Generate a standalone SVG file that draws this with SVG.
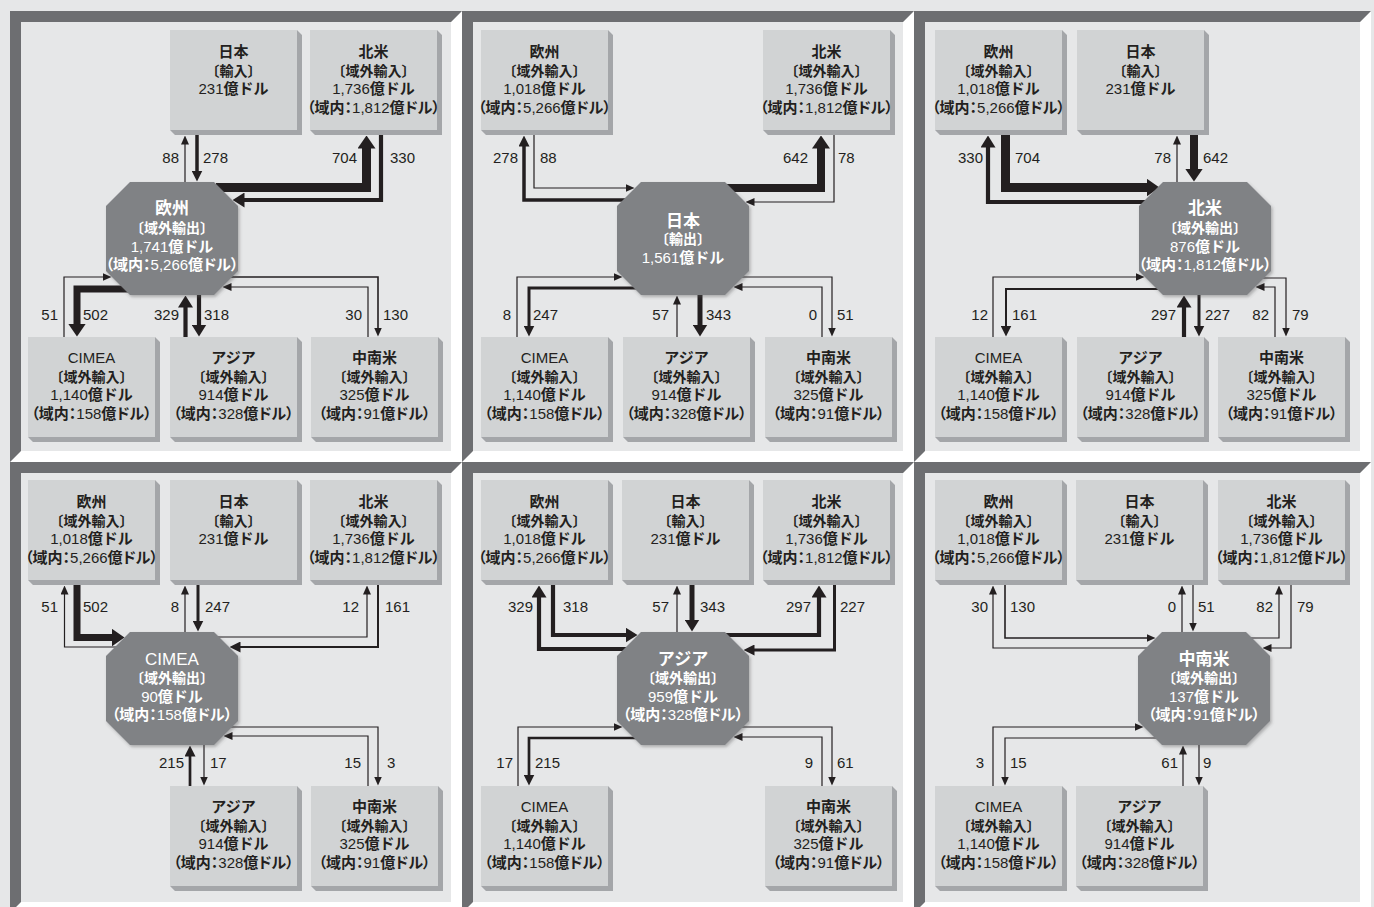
<svg xmlns="http://www.w3.org/2000/svg" width="1374" height="907" viewBox="0 0 1374 907">
<defs>
<style>
text{font-family:"Liberation Sans","Noto Sans CJK JP",sans-serif}
.bt{font-size:15px;font-weight:bold;fill:#231f20;text-anchor:middle}
.ot{font-size:15px;font-weight:bold;fill:#ffffff;text-anchor:middle}
.s14{font-size:14px}
.big{font-size:17px}
.n{font-weight:normal}
.p{font-feature-settings:"palt" 1}
.lb{font-size:15px;fill:#231f20}
.e{text-anchor:end}
.face{fill:#d1d3d4}
.bev{fill:#a4a6a9}
.oct{fill:#808285;filter:url(#sh)}
.frame{fill:#6d6e71}
.inner{fill:#e6e7e8}
.gap{fill:#ffffff}
#connectors path{fill:none;stroke:#231f20;stroke-linejoin:miter;stroke-linecap:butt}
.w1{stroke-width:1.2}.w15{stroke-width:1.6}.w2{stroke-width:2}.w27{stroke-width:2.7}.w3{stroke-width:3}.w35{stroke-width:3.5}.w4{stroke-width:4.2}.w5{stroke-width:5}.w7{stroke-width:7}.w8{stroke-width:8}.w9{stroke-width:9}
</style>
<filter id="sh" x="-10%" y="-10%" width="125%" height="125%"><feDropShadow dx="1.5" dy="2" stdDeviation="1.5" flood-color="#555" flood-opacity="0.4"/></filter>
<marker id="h1" viewBox="0 0 9 8" refX="0.5" refY="4" markerWidth="9" markerHeight="8" markerUnits="userSpaceOnUse" orient="auto"><path d="M0,0L9,4L0,8z" fill="#231f20"/></marker>
<marker id="h3" viewBox="0 0 11 11" refX="0.5" refY="5.5" markerWidth="11" markerHeight="11" markerUnits="userSpaceOnUse" orient="auto"><path d="M0,0L11,5.5L0,11z" fill="#231f20"/></marker>
<marker id="h5" viewBox="0 0 12 15" refX="0.5" refY="7.5" markerWidth="12" markerHeight="15" markerUnits="userSpaceOnUse" orient="auto"><path d="M0,0L12,7.5L0,15z" fill="#231f20"/></marker>
<marker id="h8" viewBox="0 0 13 18" refX="0.5" refY="9" markerWidth="13" markerHeight="18" markerUnits="userSpaceOnUse" orient="auto"><path d="M0,0L13,9L0,18z" fill="#231f20"/></marker>
</defs>
<rect width="1374" height="907" fill="#e6e7e8"/>
<g id="panels">
<rect class="gap" x="10" y="11" width="452" height="451"/><polygon class="frame" points="10,11 462,11 451,22 21,22 21,451 10,462"/><rect class="inner" x="21" y="22" width="430" height="429"/>
<rect class="gap" x="462" y="11" width="452" height="451"/><polygon class="frame" points="462,11 914,11 903,22 473,22 473,451 462,462"/><rect class="inner" x="473" y="22" width="430" height="429"/>
<rect class="gap" x="914" y="11" width="457" height="451"/><polygon class="frame" points="914,11 1371,11 1360,22 925,22 925,451 914,462"/><rect class="inner" x="925" y="22" width="435" height="429"/>
<rect class="gap" x="10" y="462" width="452" height="451"/><polygon class="frame" points="10,462 462,462 451,473 21,473 21,902 10,913"/><rect class="inner" x="21" y="473" width="430" height="429"/>
<rect class="gap" x="462" y="462" width="452" height="451"/><polygon class="frame" points="462,462 914,462 903,473 473,473 473,902 462,913"/><rect class="inner" x="473" y="473" width="430" height="429"/>
<rect class="gap" x="914" y="462" width="457" height="451"/><polygon class="frame" points="914,462 1371,462 1360,473 925,473 925,902 914,913"/><rect class="inner" x="925" y="473" width="435" height="429"/>
</g>
<g id="connectors">
<path class="w1" d="M185 182V144" marker-end="url(#h1)"/>
<path class="w35" d="M197 135V171" marker-end="url(#h3)"/>
<path class="w9" d="M216 187.5H366.5V148" marker-end="url(#h8)"/>
<path class="w4" d="M381 135V200H244" marker-end="url(#h5)"/>
<path class="w1" d="M64 337V277H103" marker-end="url(#h1)"/>
<path class="w7" d="M128 289H77V324" marker-end="url(#h8)"/>
<path class="w4" d="M185.5 337V307" marker-end="url(#h5)"/>
<path class="w4" d="M199 295V325" marker-end="url(#h5)"/>
<path class="w1" d="M368 337V287H231" marker-end="url(#h1)"/>
<path class="w15" d="M228 277H378V328" marker-end="url(#h1)"/>
<path class="w35" d="M627 200H524V146" marker-end="url(#h3)"/>
<path class="w1" d="M534 135V188H626" marker-end="url(#h1)"/>
<path class="w8" d="M727 188H821V148" marker-end="url(#h8)"/>
<path class="w1" d="M834 135V202H754" marker-end="url(#h1)"/>
<path class="w1" d="M517 337V277H614" marker-end="url(#h1)"/>
<path class="w3" d="M638 288H529V326" marker-end="url(#h3)"/>
<path class="w1" d="M677 337V304" marker-end="url(#h1)"/>
<path class="w5" d="M700 295V325" marker-end="url(#h5)"/>
<path class="w1" d="M822 337V287H742" marker-end="url(#h1)"/>
<path class="w1" d="M739 277H832V328" marker-end="url(#h1)"/>
<path class="w4" d="M1147 202H988V147" marker-end="url(#h5)"/>
<path class="w9" d="M1005.5 135V187.5H1147" marker-end="url(#h8)"/>
<path class="w1" d="M1177 182V144" marker-end="url(#h1)"/>
<path class="w8" d="M1194 135V169" marker-end="url(#h8)"/>
<path class="w1" d="M993 337V277H1136" marker-end="url(#h1)"/>
<path class="w2" d="M1160 289H1006V326" marker-end="url(#h3)"/>
<path class="w4" d="M1184 337V307" marker-end="url(#h5)"/>
<path class="w3" d="M1199 295V326" marker-end="url(#h3)"/>
<path class="w1" d="M1275 337V287H1264" marker-end="url(#h1)"/>
<path class="w1" d="M1260 278H1286V328" marker-end="url(#h1)"/>
<path class="w7" d="M77 585V637.5H112" marker-end="url(#h8)"/>
<path class="w1" d="M119 647H64.5V594" marker-end="url(#h1)"/>
<path class="w1" d="M185 632V594" marker-end="url(#h1)"/>
<path class="w3" d="M198 585V621" marker-end="url(#h3)"/>
<path class="w1" d="M215 637H367V594" marker-end="url(#h1)"/>
<path class="w2" d="M378 585V647H240" marker-end="url(#h3)"/>
<path class="w27" d="M190 786V756" marker-end="url(#h3)"/>
<path class="w1" d="M204 745V777" marker-end="url(#h1)"/>
<path class="w1" d="M368 786V736H232" marker-end="url(#h1)"/>
<path class="w1" d="M228 727H378V777" marker-end="url(#h1)"/>
<path class="w4" d="M628 649H539V597" marker-end="url(#h5)"/>
<path class="w4" d="M553 585V635H626" marker-end="url(#h5)"/>
<path class="w1" d="M677 632V594" marker-end="url(#h1)"/>
<path class="w5" d="M692 585V620" marker-end="url(#h5)"/>
<path class="w4" d="M724 635H819V597" marker-end="url(#h5)"/>
<path class="w3" d="M834.5 585V650H754" marker-end="url(#h3)"/>
<path class="w1" d="M518 786V727H614" marker-end="url(#h1)"/>
<path class="w27" d="M638 738H529V775" marker-end="url(#h3)"/>
<path class="w1" d="M822 786V737H742" marker-end="url(#h1)"/>
<path class="w1" d="M739 727H832V777" marker-end="url(#h1)"/>
<path class="w1" d="M1150 648H993V594" marker-end="url(#h1)"/>
<path class="w15" d="M1005 585V638H1147" marker-end="url(#h1)"/>
<path class="w1" d="M1182 632V594" marker-end="url(#h1)"/>
<path class="w1" d="M1193 585V623" marker-end="url(#h1)"/>
<path class="w1" d="M1248 638H1279V594" marker-end="url(#h1)"/>
<path class="w1" d="M1291 585V648H1271" marker-end="url(#h1)"/>
<path class="w1" d="M993 786V727H1135" marker-end="url(#h1)"/>
<path class="w1" d="M1159 738H1005V777" marker-end="url(#h1)"/>
<path class="w1" d="M1183 786V754" marker-end="url(#h1)"/>
<path class="w1" d="M1199 745V777" marker-end="url(#h1)"/>
</g>
<g id="labels">
<text class="lb e" x="179" y="163">88</text><text class="lb" x="203" y="163">278</text><text class="lb e" x="357" y="163">704</text><text class="lb" x="390" y="163">330</text>
<text class="lb e" x="58" y="320">51</text><text class="lb" x="83" y="320">502</text><text class="lb e" x="179" y="320">329</text><text class="lb" x="204" y="320">318</text><text class="lb e" x="362" y="320">30</text><text class="lb" x="383" y="320">130</text>
<text class="lb e" x="518" y="163">278</text><text class="lb" x="540" y="163">88</text><text class="lb e" x="808" y="163">642</text><text class="lb" x="838" y="163">78</text>
<text class="lb e" x="511" y="320">8</text><text class="lb" x="533" y="320">247</text><text class="lb e" x="669" y="320">57</text><text class="lb" x="706" y="320">343</text><text class="lb e" x="817" y="320">0</text><text class="lb" x="837" y="320">51</text>
<text class="lb e" x="983" y="163">330</text><text class="lb" x="1015" y="163">704</text><text class="lb e" x="1171" y="163">78</text><text class="lb" x="1203" y="163">642</text>
<text class="lb e" x="988" y="320">12</text><text class="lb" x="1012" y="320">161</text><text class="lb e" x="1176" y="320">297</text><text class="lb" x="1205" y="320">227</text><text class="lb e" x="1269" y="320">82</text><text class="lb" x="1292" y="320">79</text>
<text class="lb e" x="58" y="612">51</text><text class="lb" x="83" y="612">502</text><text class="lb e" x="179" y="612">8</text><text class="lb" x="205" y="612">247</text><text class="lb e" x="359" y="612">12</text><text class="lb" x="385" y="612">161</text>
<text class="lb e" x="184" y="768">215</text><text class="lb" x="210" y="768">17</text><text class="lb e" x="361" y="768">15</text><text class="lb" x="387" y="768">3</text>
<text class="lb e" x="533" y="612">329</text><text class="lb" x="563" y="612">318</text><text class="lb e" x="669" y="612">57</text><text class="lb" x="700" y="612">343</text><text class="lb e" x="811" y="612">297</text><text class="lb" x="840" y="612">227</text>
<text class="lb e" x="513" y="768">17</text><text class="lb" x="535" y="768">215</text><text class="lb e" x="813" y="768">9</text><text class="lb" x="837" y="768">61</text>
<text class="lb e" x="988" y="612">30</text><text class="lb" x="1010" y="612">130</text><text class="lb e" x="1176" y="612">0</text><text class="lb" x="1198" y="612">51</text><text class="lb e" x="1273" y="612">82</text><text class="lb" x="1297" y="612">79</text>
<text class="lb e" x="984" y="768">3</text><text class="lb" x="1010" y="768">15</text><text class="lb e" x="1178" y="768">61</text><text class="lb" x="1203" y="768">9</text>
</g>
<g id="p1-japan" transform="translate(170,30)"><polygon class="bev" points="127,0 132,5 132,105 5,105 0,100 127,100"/><rect class="face" width="127" height="100"/><text class="bt" x="63.5" y="27">日本</text><text class="bt s14" x="63.5" y="45.5">〔輸入〕</text><text class="bt" x="63.5" y="64"><tspan class="n">231</tspan>億ドル</text></g>
<g id="p1-namerica" transform="translate(310,30)"><polygon class="bev" points="127,0 132,5 132,105 5,105 0,100 127,100"/><rect class="face" width="127" height="100"/><text class="bt" x="63.5" y="27">北米</text><text class="bt s14" x="63.5" y="45.5">〔域外輸入〕</text><text class="bt" x="63.5" y="64"><tspan class="n">1,736</tspan>億ドル</text><text class="bt p" x="63.5" y="82.5">（域内：<tspan class="n">1,812</tspan>億ドル）</text></g>
<g id="p1-cimea" transform="translate(28,337)"><polygon class="bev" points="127,0 132,5 132,105 5,105 0,100 127,100"/><rect class="face" width="127" height="100"/><text class="bt n" x="63.5" y="26">CIMEA</text><text class="bt s14" x="63.5" y="44.5">〔域外輸入〕</text><text class="bt" x="63.5" y="63"><tspan class="n">1,140</tspan>億ドル</text><text class="bt p" x="63.5" y="81.5">（域内：<tspan class="n">158</tspan>億ドル）</text></g>
<g id="p1-asia" transform="translate(170,337)"><polygon class="bev" points="127,0 132,5 132,105 5,105 0,100 127,100"/><rect class="face" width="127" height="100"/><text class="bt" x="63.5" y="26">アジア</text><text class="bt s14" x="63.5" y="44.5">〔域外輸入〕</text><text class="bt" x="63.5" y="63"><tspan class="n">914</tspan>億ドル</text><text class="bt p" x="63.5" y="81.5">（域内：<tspan class="n">328</tspan>億ドル）</text></g>
<g id="p1-latam" transform="translate(311,337)"><polygon class="bev" points="127,0 132,5 132,105 5,105 0,100 127,100"/><rect class="face" width="127" height="100"/><text class="bt" x="63.5" y="26">中南米</text><text class="bt s14" x="63.5" y="44.5">〔域外輸入〕</text><text class="bt" x="63.5" y="63"><tspan class="n">325</tspan>億ドル</text><text class="bt p" x="63.5" y="81.5">（域内：<tspan class="n">91</tspan>億ドル）</text></g>
<g id="p1-hub" transform="translate(106,182)"><polygon class="oct" points="24,0 108,0 132,24 132,89 108,113 24,113 0,89 0,24"/><text class="ot big" x="66" y="32">欧州</text><text class="ot s14" x="66" y="51">〔域外輸出〕</text><text class="ot" x="66" y="69.5"><tspan class="n">1,741</tspan>億ドル</text><text class="ot p" x="66" y="88">（域内：<tspan class="n">5,266</tspan>億ドル）</text></g>
<g id="p2-europe" transform="translate(481,30)"><polygon class="bev" points="127,0 132,5 132,105 5,105 0,100 127,100"/><rect class="face" width="127" height="100"/><text class="bt" x="63.5" y="27">欧州</text><text class="bt s14" x="63.5" y="45.5">〔域外輸入〕</text><text class="bt" x="63.5" y="64"><tspan class="n">1,018</tspan>億ドル</text><text class="bt p" x="63.5" y="82.5">（域内：<tspan class="n">5,266</tspan>億ドル）</text></g>
<g id="p2-namerica" transform="translate(763,30)"><polygon class="bev" points="127,0 132,5 132,105 5,105 0,100 127,100"/><rect class="face" width="127" height="100"/><text class="bt" x="63.5" y="27">北米</text><text class="bt s14" x="63.5" y="45.5">〔域外輸入〕</text><text class="bt" x="63.5" y="64"><tspan class="n">1,736</tspan>億ドル</text><text class="bt p" x="63.5" y="82.5">（域内：<tspan class="n">1,812</tspan>億ドル）</text></g>
<g id="p2-cimea" transform="translate(481,337)"><polygon class="bev" points="127,0 132,5 132,105 5,105 0,100 127,100"/><rect class="face" width="127" height="100"/><text class="bt n" x="63.5" y="26">CIMEA</text><text class="bt s14" x="63.5" y="44.5">〔域外輸入〕</text><text class="bt" x="63.5" y="63"><tspan class="n">1,140</tspan>億ドル</text><text class="bt p" x="63.5" y="81.5">（域内：<tspan class="n">158</tspan>億ドル）</text></g>
<g id="p2-asia" transform="translate(623,337)"><polygon class="bev" points="127,0 132,5 132,105 5,105 0,100 127,100"/><rect class="face" width="127" height="100"/><text class="bt" x="63.5" y="26">アジア</text><text class="bt s14" x="63.5" y="44.5">〔域外輸入〕</text><text class="bt" x="63.5" y="63"><tspan class="n">914</tspan>億ドル</text><text class="bt p" x="63.5" y="81.5">（域内：<tspan class="n">328</tspan>億ドル）</text></g>
<g id="p2-latam" transform="translate(765,337)"><polygon class="bev" points="127,0 132,5 132,105 5,105 0,100 127,100"/><rect class="face" width="127" height="100"/><text class="bt" x="63.5" y="26">中南米</text><text class="bt s14" x="63.5" y="44.5">〔域外輸入〕</text><text class="bt" x="63.5" y="63"><tspan class="n">325</tspan>億ドル</text><text class="bt p" x="63.5" y="81.5">（域内：<tspan class="n">91</tspan>億ドル）</text></g>
<g id="p2-hub" transform="translate(617,182)"><polygon class="oct" points="24,0 108,0 132,24 132,89 108,113 24,113 0,89 0,24"/><text class="ot big" x="66" y="45">日本</text><text class="ot s14" x="66" y="62">〔輸出〕</text><text class="ot" x="66" y="81"><tspan class="n">1,561</tspan>億ドル</text></g>
<g id="p3-europe" transform="translate(935,30)"><polygon class="bev" points="127,0 132,5 132,105 5,105 0,100 127,100"/><rect class="face" width="127" height="100"/><text class="bt" x="63.5" y="27">欧州</text><text class="bt s14" x="63.5" y="45.5">〔域外輸入〕</text><text class="bt" x="63.5" y="64"><tspan class="n">1,018</tspan>億ドル</text><text class="bt p" x="63.5" y="82.5">（域内：<tspan class="n">5,266</tspan>億ドル）</text></g>
<g id="p3-japan" transform="translate(1077,30)"><polygon class="bev" points="127,0 132,5 132,105 5,105 0,100 127,100"/><rect class="face" width="127" height="100"/><text class="bt" x="63.5" y="27">日本</text><text class="bt s14" x="63.5" y="45.5">〔輸入〕</text><text class="bt" x="63.5" y="64"><tspan class="n">231</tspan>億ドル</text></g>
<g id="p3-cimea" transform="translate(935,337)"><polygon class="bev" points="127,0 132,5 132,105 5,105 0,100 127,100"/><rect class="face" width="127" height="100"/><text class="bt n" x="63.5" y="26">CIMEA</text><text class="bt s14" x="63.5" y="44.5">〔域外輸入〕</text><text class="bt" x="63.5" y="63"><tspan class="n">1,140</tspan>億ドル</text><text class="bt p" x="63.5" y="81.5">（域内：<tspan class="n">158</tspan>億ドル）</text></g>
<g id="p3-asia" transform="translate(1077,337)"><polygon class="bev" points="127,0 132,5 132,105 5,105 0,100 127,100"/><rect class="face" width="127" height="100"/><text class="bt" x="63.5" y="26">アジア</text><text class="bt s14" x="63.5" y="44.5">〔域外輸入〕</text><text class="bt" x="63.5" y="63"><tspan class="n">914</tspan>億ドル</text><text class="bt p" x="63.5" y="81.5">（域内：<tspan class="n">328</tspan>億ドル）</text></g>
<g id="p3-latam" transform="translate(1218,337)"><polygon class="bev" points="127,0 132,5 132,105 5,105 0,100 127,100"/><rect class="face" width="127" height="100"/><text class="bt" x="63.5" y="26">中南米</text><text class="bt s14" x="63.5" y="44.5">〔域外輸入〕</text><text class="bt" x="63.5" y="63"><tspan class="n">325</tspan>億ドル</text><text class="bt p" x="63.5" y="81.5">（域内：<tspan class="n">91</tspan>億ドル）</text></g>
<g id="p3-hub" transform="translate(1139,182)"><polygon class="oct" points="24,0 108,0 132,24 132,89 108,113 24,113 0,89 0,24"/><text class="ot big" x="66" y="32">北米</text><text class="ot s14" x="66" y="51">〔域外輸出〕</text><text class="ot" x="66" y="69.5"><tspan class="n">876</tspan>億ドル</text><text class="ot p" x="66" y="88">（域内：<tspan class="n">1,812</tspan>億ドル）</text></g>
<g id="p4-europe" transform="translate(28,480)"><polygon class="bev" points="127,0 132,5 132,105 5,105 0,100 127,100"/><rect class="face" width="127" height="100"/><text class="bt" x="63.5" y="27">欧州</text><text class="bt s14" x="63.5" y="45.5">〔域外輸入〕</text><text class="bt" x="63.5" y="64"><tspan class="n">1,018</tspan>億ドル</text><text class="bt p" x="63.5" y="82.5">（域内：<tspan class="n">5,266</tspan>億ドル）</text></g>
<g id="p4-japan" transform="translate(170,480)"><polygon class="bev" points="127,0 132,5 132,105 5,105 0,100 127,100"/><rect class="face" width="127" height="100"/><text class="bt" x="63.5" y="27">日本</text><text class="bt s14" x="63.5" y="45.5">〔輸入〕</text><text class="bt" x="63.5" y="64"><tspan class="n">231</tspan>億ドル</text></g>
<g id="p4-namerica" transform="translate(310,480)"><polygon class="bev" points="127,0 132,5 132,105 5,105 0,100 127,100"/><rect class="face" width="127" height="100"/><text class="bt" x="63.5" y="27">北米</text><text class="bt s14" x="63.5" y="45.5">〔域外輸入〕</text><text class="bt" x="63.5" y="64"><tspan class="n">1,736</tspan>億ドル</text><text class="bt p" x="63.5" y="82.5">（域内：<tspan class="n">1,812</tspan>億ドル）</text></g>
<g id="p4-asia" transform="translate(170,786)"><polygon class="bev" points="127,0 132,5 132,105 5,105 0,100 127,100"/><rect class="face" width="127" height="100"/><text class="bt" x="63.5" y="26">アジア</text><text class="bt s14" x="63.5" y="44.5">〔域外輸入〕</text><text class="bt" x="63.5" y="63"><tspan class="n">914</tspan>億ドル</text><text class="bt p" x="63.5" y="81.5">（域内：<tspan class="n">328</tspan>億ドル）</text></g>
<g id="p4-latam" transform="translate(311,786)"><polygon class="bev" points="127,0 132,5 132,105 5,105 0,100 127,100"/><rect class="face" width="127" height="100"/><text class="bt" x="63.5" y="26">中南米</text><text class="bt s14" x="63.5" y="44.5">〔域外輸入〕</text><text class="bt" x="63.5" y="63"><tspan class="n">325</tspan>億ドル</text><text class="bt p" x="63.5" y="81.5">（域内：<tspan class="n">91</tspan>億ドル）</text></g>
<g id="p4-hub" transform="translate(106,632)"><polygon class="oct" points="24,0 108,0 132,24 132,89 108,113 24,113 0,89 0,24"/><text class="ot big n" x="66" y="33">CIMEA</text><text class="ot s14" x="66" y="51">〔域外輸出〕</text><text class="ot" x="66" y="69.5"><tspan class="n">90</tspan>億ドル</text><text class="ot p" x="66" y="88">（域内：<tspan class="n">158</tspan>億ドル）</text></g>
<g id="p5-europe" transform="translate(481,480)"><polygon class="bev" points="127,0 132,5 132,105 5,105 0,100 127,100"/><rect class="face" width="127" height="100"/><text class="bt" x="63.5" y="27">欧州</text><text class="bt s14" x="63.5" y="45.5">〔域外輸入〕</text><text class="bt" x="63.5" y="64"><tspan class="n">1,018</tspan>億ドル</text><text class="bt p" x="63.5" y="82.5">（域内：<tspan class="n">5,266</tspan>億ドル）</text></g>
<g id="p5-japan" transform="translate(622,480)"><polygon class="bev" points="127,0 132,5 132,105 5,105 0,100 127,100"/><rect class="face" width="127" height="100"/><text class="bt" x="63.5" y="27">日本</text><text class="bt s14" x="63.5" y="45.5">〔輸入〕</text><text class="bt" x="63.5" y="64"><tspan class="n">231</tspan>億ドル</text></g>
<g id="p5-namerica" transform="translate(763,480)"><polygon class="bev" points="127,0 132,5 132,105 5,105 0,100 127,100"/><rect class="face" width="127" height="100"/><text class="bt" x="63.5" y="27">北米</text><text class="bt s14" x="63.5" y="45.5">〔域外輸入〕</text><text class="bt" x="63.5" y="64"><tspan class="n">1,736</tspan>億ドル</text><text class="bt p" x="63.5" y="82.5">（域内：<tspan class="n">1,812</tspan>億ドル）</text></g>
<g id="p5-cimea" transform="translate(481,786)"><polygon class="bev" points="127,0 132,5 132,105 5,105 0,100 127,100"/><rect class="face" width="127" height="100"/><text class="bt n" x="63.5" y="26">CIMEA</text><text class="bt s14" x="63.5" y="44.5">〔域外輸入〕</text><text class="bt" x="63.5" y="63"><tspan class="n">1,140</tspan>億ドル</text><text class="bt p" x="63.5" y="81.5">（域内：<tspan class="n">158</tspan>億ドル）</text></g>
<g id="p5-latam" transform="translate(765,786)"><polygon class="bev" points="127,0 132,5 132,105 5,105 0,100 127,100"/><rect class="face" width="127" height="100"/><text class="bt" x="63.5" y="26">中南米</text><text class="bt s14" x="63.5" y="44.5">〔域外輸入〕</text><text class="bt" x="63.5" y="63"><tspan class="n">325</tspan>億ドル</text><text class="bt p" x="63.5" y="81.5">（域内：<tspan class="n">91</tspan>億ドル）</text></g>
<g id="p5-hub" transform="translate(617,632)"><polygon class="oct" points="24,0 108,0 132,24 132,89 108,113 24,113 0,89 0,24"/><text class="ot big" x="66" y="33">アジア</text><text class="ot s14" x="66" y="51">〔域外輸出〕</text><text class="ot" x="66" y="69.5"><tspan class="n">959</tspan>億ドル</text><text class="ot p" x="66" y="88">（域内：<tspan class="n">328</tspan>億ドル）</text></g>
<g id="p6-europe" transform="translate(935,480)"><polygon class="bev" points="127,0 132,5 132,105 5,105 0,100 127,100"/><rect class="face" width="127" height="100"/><text class="bt" x="63.5" y="27">欧州</text><text class="bt s14" x="63.5" y="45.5">〔域外輸入〕</text><text class="bt" x="63.5" y="64"><tspan class="n">1,018</tspan>億ドル</text><text class="bt p" x="63.5" y="82.5">（域内：<tspan class="n">5,266</tspan>億ドル）</text></g>
<g id="p6-japan" transform="translate(1076,480)"><polygon class="bev" points="127,0 132,5 132,105 5,105 0,100 127,100"/><rect class="face" width="127" height="100"/><text class="bt" x="63.5" y="27">日本</text><text class="bt s14" x="63.5" y="45.5">〔輸入〕</text><text class="bt" x="63.5" y="64"><tspan class="n">231</tspan>億ドル</text></g>
<g id="p6-namerica" transform="translate(1218,480)"><polygon class="bev" points="127,0 132,5 132,105 5,105 0,100 127,100"/><rect class="face" width="127" height="100"/><text class="bt" x="63.5" y="27">北米</text><text class="bt s14" x="63.5" y="45.5">〔域外輸入〕</text><text class="bt" x="63.5" y="64"><tspan class="n">1,736</tspan>億ドル</text><text class="bt p" x="63.5" y="82.5">（域内：<tspan class="n">1,812</tspan>億ドル）</text></g>
<g id="p6-cimea" transform="translate(935,786)"><polygon class="bev" points="127,0 132,5 132,105 5,105 0,100 127,100"/><rect class="face" width="127" height="100"/><text class="bt n" x="63.5" y="26">CIMEA</text><text class="bt s14" x="63.5" y="44.5">〔域外輸入〕</text><text class="bt" x="63.5" y="63"><tspan class="n">1,140</tspan>億ドル</text><text class="bt p" x="63.5" y="81.5">（域内：<tspan class="n">158</tspan>億ドル）</text></g>
<g id="p6-asia" transform="translate(1076,786)"><polygon class="bev" points="127,0 132,5 132,105 5,105 0,100 127,100"/><rect class="face" width="127" height="100"/><text class="bt" x="63.5" y="26">アジア</text><text class="bt s14" x="63.5" y="44.5">〔域外輸入〕</text><text class="bt" x="63.5" y="63"><tspan class="n">914</tspan>億ドル</text><text class="bt p" x="63.5" y="81.5">（域内：<tspan class="n">328</tspan>億ドル）</text></g>
<g id="p6-hub" transform="translate(1138,632)"><polygon class="oct" points="24,0 108,0 132,24 132,89 108,113 24,113 0,89 0,24"/><text class="ot big" x="66" y="33">中南米</text><text class="ot s14" x="66" y="51">〔域外輸出〕</text><text class="ot" x="66" y="69.5"><tspan class="n">137</tspan>億ドル</text><text class="ot p" x="66" y="88">（域内：<tspan class="n">91</tspan>億ドル）</text></g>
</svg>
